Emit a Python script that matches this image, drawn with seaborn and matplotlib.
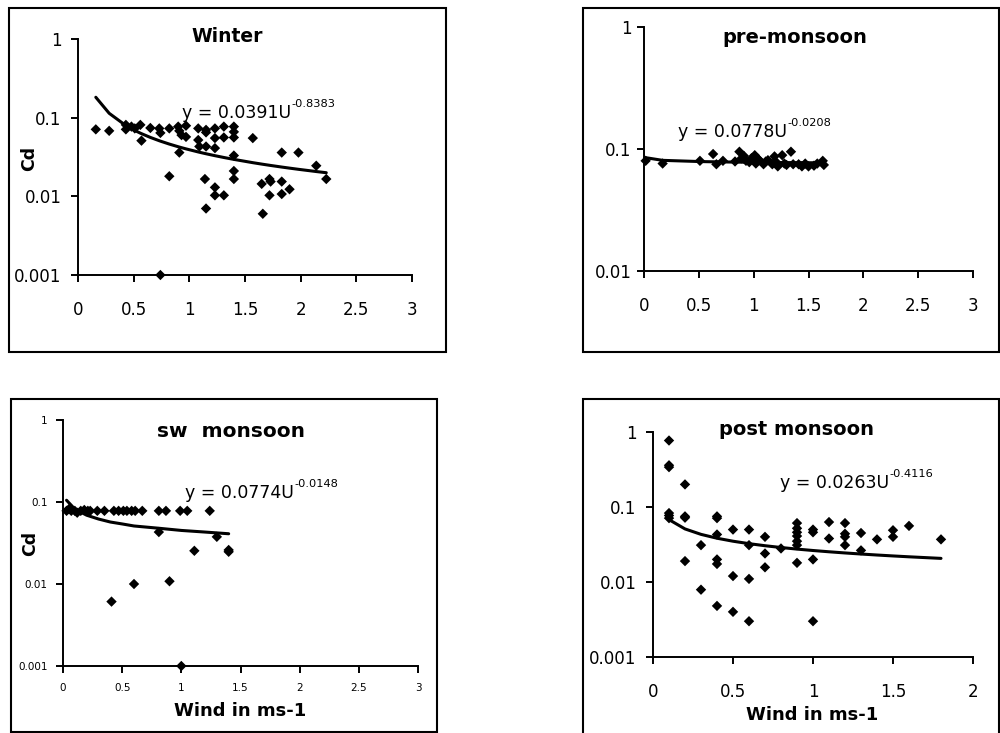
import matplotlib
matplotlib.use("Agg")
import matplotlib.pyplot as plt
import seaborn as sns
import numpy as np
import pandas as pd
from matplotlib.patches import Rectangle

# ---------------- data ----------------
# Winter: wind speed (m/s) and drag coefficient
winter_u = [0.16, 0.28, 0.43, 0.43, 0.48, 0.51, 0.56, 0.57, 0.65, 0.73, 0.74, 0.82, 0.82,
            0.90, 0.91, 0.91, 0.93, 0.97, 0.97, 1.08, 1.08, 1.09, 1.15, 1.15, 1.15,
            1.23, 1.23, 1.23, 1.31, 1.31, 1.40, 1.40, 1.40, 1.40, 1.40, 1.40, 1.57,
            1.14, 1.15, 1.23, 1.23, 1.31, 1.83, 1.98, 2.14, 2.23, 1.65, 1.72, 1.73,
            1.72, 1.83, 1.83, 1.90, 1.66, 0.74]
winter_cd = [0.071, 0.068, 0.081, 0.071, 0.077, 0.073, 0.081, 0.051, 0.074, 0.073, 0.064, 0.073, 0.018,
             0.077, 0.068, 0.036, 0.060, 0.079, 0.057, 0.073, 0.052, 0.043, 0.070, 0.065, 0.043,
             0.073, 0.055, 0.041, 0.077, 0.056, 0.077, 0.066, 0.056, 0.033, 0.021, 0.0166, 0.055,
             0.0166, 0.007, 0.013, 0.0103, 0.0103, 0.036, 0.036, 0.0245, 0.0166, 0.0144, 0.0166, 0.0154,
             0.0103, 0.0154, 0.0107, 0.0123, 0.006, 0.001]
winter_coef = (0.0391, -0.8383)

# Pre-monsoon
pre_u = [0.015, 0.17, 0.51, 0.63, 0.66, 0.72, 0.83, 0.87, 0.89, 0.91, 0.93, 0.96, 0.98, 1.01,
         1.02, 1.04, 1.05, 1.09, 1.11, 1.13, 1.17, 1.19, 1.20, 1.22, 1.26, 1.28, 1.30, 1.34,
         1.36, 1.41, 1.44, 1.47, 1.50, 1.55, 1.58, 1.63, 1.64]
pre_cd = [0.080, 0.076, 0.080, 0.091, 0.075, 0.080, 0.079, 0.095, 0.084, 0.088, 0.080, 0.078, 0.084, 0.089,
          0.076, 0.083, 0.081, 0.075, 0.079, 0.081, 0.075, 0.087, 0.079, 0.072, 0.089, 0.076, 0.074, 0.095,
          0.075, 0.075, 0.072, 0.076, 0.072, 0.073, 0.076, 0.080, 0.074]
pre_coef = (0.0778, -0.0208)

# South-west monsoon
sw_u = [0.03, 0.05, 0.07, 0.10, 0.12, 0.15, 0.18, 0.21, 0.23, 0.29, 0.35, 0.43, 0.47, 0.51,
        0.54, 0.58, 0.61, 0.67, 0.81, 0.87, 0.99, 1.05, 1.24,
        0.81, 1.30, 1.11, 1.40, 1.40, 0.41, 0.60, 0.90, 1.00]
sw_cd = [0.078, 0.082, 0.078, 0.078, 0.074, 0.078, 0.080, 0.078, 0.078, 0.078, 0.078, 0.078, 0.078, 0.078,
         0.078, 0.078, 0.078, 0.078, 0.078, 0.078, 0.078, 0.078, 0.078,
         0.043, 0.0376, 0.0254, 0.0247, 0.026, 0.0061, 0.010, 0.0108, 0.001]
sw_fit_u = [0.03, 0.1, 0.2, 0.3, 0.4, 0.5, 0.6, 0.8, 1.0, 1.2, 1.4]
sw_fit_cd = [0.105, 0.082, 0.069, 0.062, 0.057, 0.054, 0.051, 0.048, 0.045, 0.043, 0.041]
sw_coef = (0.0774, -0.0148)

# Post monsoon
post_u = [0.1, 0.1, 0.1, 0.1, 0.1, 0.1, 0.2, 0.2, 0.2, 0.2, 0.3, 0.3, 0.4, 0.4, 0.4, 0.4, 0.4, 0.4,
          0.5, 0.5, 0.5, 0.6, 0.6, 0.6, 0.6, 0.7, 0.7, 0.7, 0.8, 0.9, 0.9, 0.9, 0.9, 0.9, 0.9, 0.9,
          1.0, 1.0, 1.0, 1.0, 1.1, 1.1, 1.2, 1.2, 1.2, 1.2, 1.3, 1.3, 1.4, 1.5, 1.5, 1.6, 1.8]
post_cd = [0.77, 0.36, 0.34, 0.083, 0.077, 0.071, 0.20, 0.075, 0.072, 0.019, 0.031, 0.0079,
           0.075, 0.071, 0.043, 0.020, 0.0174, 0.0048, 0.050, 0.012, 0.004, 0.050, 0.031, 0.011, 0.003,
           0.040, 0.024, 0.0157, 0.028, 0.061, 0.052, 0.046, 0.041, 0.035, 0.031, 0.018,
           0.050, 0.046, 0.020, 0.003, 0.063, 0.038, 0.061, 0.044, 0.040, 0.031, 0.045, 0.0264,
           0.037, 0.049, 0.040, 0.056, 0.037]
post_coef = (0.0263, -0.4116)

# ---------------- style ----------------
sns.set_style("ticks")
plt.rcParams["font.family"] = ["DejaVu Sans"]
plt.rcParams["text.color"] = "black"
plt.rcParams["axes.labelcolor"] = "black"

W, H = 1000, 733
fig = plt.figure(figsize=(W / 100, H / 100), dpi=100)


def px_rect(x0, y0, x1, y1):
    """Convert a pixel box (top-left origin) to figure fraction [l, b, w, h]."""
    return [x0 / W, 1 - y1 / H, (x1 - x0) / W, (y1 - y0) / H]


def frame(x0, y0, x1, y1):
    l, b, w, h = px_rect(x0, y0, x1, y1)
    fig.add_artist(Rectangle((l, b), w, h, transform=fig.transFigure,
                             fill=False, lw=1.5, ec="black", zorder=0))


def power_curve(u, coef):
    xs = np.sort(np.unique(np.asarray(u, dtype=float)))
    return xs, coef[0] * xs ** coef[1]


def equation(ax, coef, x, y):
    """Trend-line equation with the exponent as a raised, smaller label."""
    main = ax.text(x, y, "y = %.4fU" % coef[0], transform=ax.transAxes, ha="left",
                   va="baseline", fontsize=12.5)
    ax.annotate("%.4f" % coef[1], xy=(1, 1), xycoords=main, xytext=(0.3, 3.5),
                textcoords="offset points", ha="left", va="top", fontsize=8.2)


def panel(box, u, cd, fit_u, fit_cd, xmax, xticks, ymin, tick_size, xpad, ypad):
    ax = fig.add_axes(px_rect(*box))
    df = pd.DataFrame({"u": u, "cd": cd})
    fit = pd.DataFrame({"u": fit_u, "cd": fit_cd})
    sns.lineplot(data=fit, x="u", y="cd", ax=ax, color="black", lw=2.2,
                 estimator=None, sort=True, zorder=2)
    sns.scatterplot(data=df, x="u", y="cd", ax=ax, marker="D", s=28, color="black",
                    edgecolor="none", linewidth=0, clip_on=False, zorder=3)
    ax.set_yscale("log")
    ax.set_xlim(0, xmax)
    ax.set_ylim(ymin, 1)
    ax.set_xticks(xticks)
    ax.set_xticklabels([("%g" % t) for t in xticks])
    yt = [10.0 ** k for k in range(int(round(np.log10(ymin))), 1)]
    ax.set_yticks(yt)
    ax.set_yticklabels([("%g" % t) for t in yt])
    ax.minorticks_off()
    ax.set_xlabel("")
    ax.set_ylabel("")
    for s in ("top", "right"):
        ax.spines[s].set_visible(False)
    for s in ("left", "bottom"):
        ax.spines[s].set_linewidth(1.4)
        ax.spines[s].set_color("black")
    ax.tick_params(axis="both", direction="out", length=5, width=1.4,
                   labelsize=tick_size, colors="black")
    ax.tick_params(axis="x", pad=xpad)
    ax.tick_params(axis="y", pad=ypad)
    ax.set_facecolor("none")
    return ax


# ---------------- Winter ----------------
frame(9, 8, 446, 352)
wx, wy = power_curve(winter_u, winter_coef)
ax1 = panel((78, 39, 412, 275), winter_u, winter_cd, wx, wy, 3, [0, 0.5, 1, 1.5, 2, 2.5, 3],
            0.001, 12, 14, 7)
ax1.text(0.448, 1.01, "Winter", transform=ax1.transAxes, ha="center", va="center",
         fontsize=13.5, fontweight="bold")
equation(ax1, winter_coef, 0.31, 0.664)
ax1.text(-0.146, 0.496, "Cd", transform=ax1.transAxes, rotation=90, ha="center",
         va="center", fontsize=12.5, fontweight="bold")

# ---------------- Pre-monsoon ----------------
frame(583, 8, 999, 352)
px_, py_ = power_curve(pre_u, pre_coef)
ax2 = panel((644, 27, 973, 271), pre_u, pre_cd, px_, py_, 3, [0, 0.5, 1, 1.5, 2, 2.5, 3],
            0.01, 12, 14, 4)
ax2.text(0.459, 0.955, "pre-monsoon", transform=ax2.transAxes, ha="center", va="center",
         fontsize=14, fontweight="bold")
equation(ax2, pre_coef, 0.103, 0.551)

# ---------------- SW monsoon ----------------
frame(11, 399, 437, 732)
ax3 = panel((63, 420, 418, 666), sw_u, sw_cd, sw_fit_u, sw_fit_cd, 3,
            [0, 0.5, 1, 1.5, 2, 2.5, 3], 0.001, 7.5, 7, 6)
ax3.text(0.4735, 0.955, "sw  monsoon", transform=ax3.transAxes, ha="center", va="center",
         fontsize=14.5, fontweight="bold")
equation(ax3, sw_coef, 0.3445, 0.682)
ax3.text(-0.092, 0.5, "Cd", transform=ax3.transAxes, rotation=90, ha="center",
         va="center", fontsize=12.5, fontweight="bold")
ax3.text(0.498, -0.182, "Wind in ms-1", transform=ax3.transAxes, ha="center",
         va="center", fontsize=13, fontweight="bold")

# ---------------- Post monsoon ----------------
frame(583, 399, 999, 745)
qx, qy = power_curve(post_u, post_coef)
ax4 = panel((653, 432, 973, 657), post_u, post_cd, qx, qy, 2, [0, 0.5, 1, 1.5, 2],
            0.001, 12, 14, 7)
ax4.text(0.448, 1.012, "post monsoon", transform=ax4.transAxes, ha="center", va="center",
         fontsize=14, fontweight="bold")
equation(ax4, post_coef, 0.396, 0.751)
ax4.text(0.498, -0.26, "Wind in ms-1", transform=ax4.transAxes, ha="center",
         va="center", fontsize=13, fontweight="bold")

fig.savefig("out.png", dpi=100, facecolor="white")
